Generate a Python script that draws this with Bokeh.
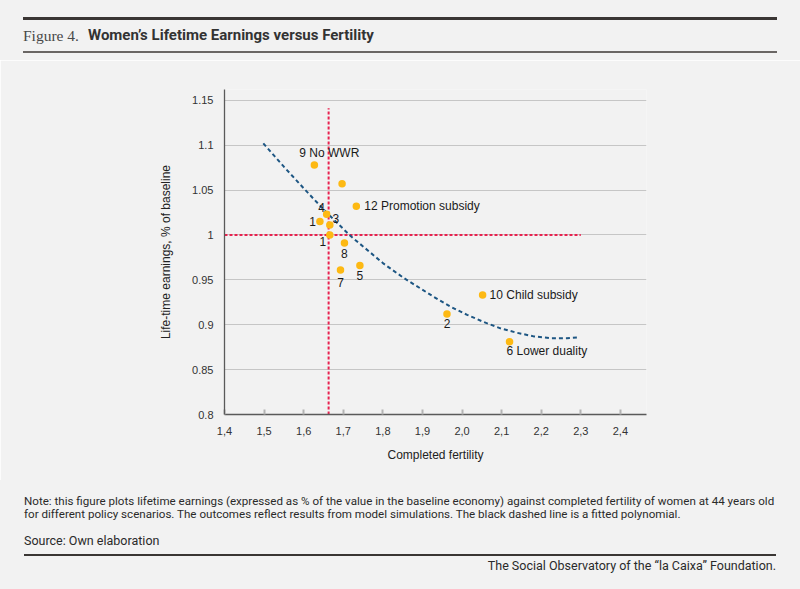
from bokeh.plotting import figure
from bokeh.models import Range1d, FixedTicker, ColumnDataSource, Div
from bokeh.layouts import column
from bokeh.core.properties import value
from bokeh.embed import file_html
from bokeh.resources import INLINE

# ---------------- data ----------------
fertility = [1.627, 1.697, 1.733, 1.658, 1.641, 1.666, 1.666, 1.703, 1.693, 1.742, 2.052, 1.962, 2.120]
earnings = [1.078, 1.057, 1.032, 1.023, 1.015, 1.011, 1.000, 0.991, 0.961, 0.966, 0.933, 0.912, 0.881]
point_labels = ["9 No WWR", "", "12 Promotion subsidy", "4", "1", "3", "1", "8", "7", "5",
                "10 Child subsidy", "2", "6 Lower duality"]

fit_fertility = [1.498, 1.550, 1.600, 1.651, 1.718, 1.802, 1.853, 1.929, 1.971, 2.013,
                 2.055, 2.097, 2.139, 2.181, 2.223, 2.265, 2.295]
fit_earnings = [1.102, 1.076, 1.052, 1.028, 0.999, 0.968, 0.952, 0.931, 0.920, 0.911,
                0.903, 0.896, 0.891, 0.887, 0.885, 0.885, 0.886]

baseline_fertility = 1.663
baseline_earnings = 1.0
vline_earnings = [0.8, 1.141]
hline_fertility = [1.4, 2.3]

x_ticks = [1.4, 1.5, 1.6, 1.7, 1.8, 1.9, 2.0, 2.1, 2.2, 2.3, 2.4]
x_tick_labels = ["1,4", "1,5", "1,6", "1,7", "1,8", "1,9", "2,0", "2,1", "2,2", "2,3", "2,4"]
y_ticks = [0.8, 0.85, 0.9, 0.95, 1.0, 1.05, 1.1, 1.15]
y_tick_labels = ["0.8", "0.85", "0.9", "0.95", "1", "1.05", "1.1", "1.15"]

title_prefix = "Figure 4."
title_text = "Women\u2019s Lifetime Earnings versus Fertility"
x_title = "Completed fertility"
y_title = "Life-time earnings, % of baseline"
note_lines = ["Note: this figure plots lifetime earnings (expressed as % of the value in the baseline economy) against completed fertility of women at 44 years old",
              "for different policy scenarios.  The outcomes reflect results from model simulations. The black dashed line is a fitted polynomial."]
source_text = "Source: Own elaboration"
credit_text = "The Social Observatory of the \u201cla Caixa\u201d Foundation."

# ---------------- styling / layout ----------------
BG = "#f2f2f2"
W = 800
label_dx = [-15, 0, 8, -5, -4, 6, -7, 0, 0, 0, 7, 0, -3]
label_dy = [-12, 0, 0, -7, 0, -7, 7, 10, 13, 10, 0, 10, 9]
label_align = ["left", "center", "left", "center", "right", "center", "center", "center",
               "center", "center", "left", "center", "left"]

# main chart occupies picture rows 60..480; frame: left 224, right 646, top 89, bottom 414
p = figure(width=W, height=420, x_range=Range1d(1.4, 2.466), y_range=Range1d(0.8, 1.162),
           output_backend="svg", toolbar_location=None,
           min_border_left=224, min_border_right=W - 646, min_border_top=29,
           min_border_bottom=66)

p.background_fill_color = BG
p.border_fill_color = BG
p.outline_line_color = None
p.xgrid.visible = False
p.ygrid.grid_line_color = "#c6c6c6"
p.ygrid.grid_line_width = 1

p.xaxis.ticker = FixedTicker(ticks=x_ticks)
p.xaxis.major_label_overrides = dict(zip(x_ticks, x_tick_labels))
p.yaxis.ticker = FixedTicker(ticks=y_ticks)
p.yaxis.major_label_overrides = dict(zip(y_ticks, y_tick_labels))
p.ygrid.ticker = FixedTicker(ticks=y_ticks)

for ax in (p.xaxis, p.yaxis):
    ax.axis_line_color = "#5a5a5a"
    ax.axis_line_width = 1.3
    ax.minor_tick_line_color = None
    ax.major_label_text_font = "Liberation Sans"
    ax.major_label_text_font_size = "11px"
    ax.major_label_text_color = "#333333"
    ax.axis_label_text_font = "Liberation Sans"
    ax.axis_label_text_font_size = "12px"
    ax.axis_label_text_font_style = "normal"
    ax.axis_label_text_color = "#222222"

p.xaxis.axis_label = x_title
p.yaxis.axis_label = y_title
p.xaxis.major_tick_in = 5
p.xaxis.major_tick_out = 0
p.xaxis.major_tick_line_color = "#b4b4b4"
p.xaxis.major_tick_line_width = 2
p.xaxis.major_label_standoff = 12
p.xaxis.axis_label_standoff = 10
p.yaxis.major_tick_in = 0
p.yaxis.major_tick_out = 0
p.yaxis.major_tick_line_color = None
p.yaxis.major_label_standoff = 11
p.yaxis.axis_label_standoff = 16

red = "#e8214f"
p.line(x=[baseline_fertility, baseline_fertility], y=vline_earnings, line_color=red,
       line_width=2, line_dash="3 2")
p.line(x=hline_fertility, y=[baseline_earnings, baseline_earnings], line_color=red,
       line_width=2, line_dash="3 2")

p.line(x=fit_fertility, y=fit_earnings, line_color="#1d5683", line_width=2, line_dash="4 3")

src = ColumnDataSource(dict(x=fertility, y=earnings, t=point_labels,
                            dx=label_dx, dy=label_dy, al=label_align))
p.scatter(x="x", y="y", source=src, size=7.5, fill_color="#fdb913", line_color=None)
p.text(x="x", y="y", text="t", source=src, x_offset="dx", y_offset="dy", text_align="al",
       text_baseline="middle", text_font=value("Liberation Sans"), text_font_size="12px",
       text_color="#1a1a1a")


# ---- title strip (rows 0..60) and footer strip (rows 480..589) ----
def rule_html(x0, x1, top, h, color):
    return (f'<div style="position:absolute;left:{x0}px;top:{top}px;width:{x1 - x0}px;'
            f'height:{h}px;background:{color};"></div>')


def text_html(x, cy, s, font, size, color, weight="normal", align="left", lh=16):
    if align == "right":
        pos = f"right:{W - x}px;text-align:right;"
    else:
        pos = f"left:{x}px;"
    return (f'<div style="position:absolute;{pos}top:{cy - lh / 2}px;line-height:{lh}px;'
            f'font-family:\'{font}\';font-size:{size};color:{color};font-weight:{weight};'
            f'white-space:nowrap;">{s}</div>')


def strip(h, parts):
    inner = "".join(parts)
    return Div(text=f'<div style="position:relative;width:{W}px;height:{h}px;'
                    f'background:{BG};overflow:hidden;">{inner}</div>',
               width=W, height=h, margin=0, styles={"background-color": BG})


top = strip(60, [
    rule_html(23, 777, 17.4, 2.2, "#3a3634"),
    text_html(23, 35.5, title_prefix, "Liberation Serif", "15.5px", "#484848"),
    text_html(88, 35, title_text, "Roboto", "15px", "#333333", weight="bold"),
    rule_html(23, 777, 51.3, 1.4, "#6a6664"),
])

foot = strip(109, [
    text_html(24, 20.7, note_lines[0], "Roboto", "11.6px", "#2a2a2a"),
    text_html(24, 34, note_lines[1], "Roboto", "11.6px", "#2a2a2a"),
    text_html(24, 61, source_text, "Roboto", "12.5px", "#2a2a2a"),
    rule_html(24, 776, 74, 2, "#3a3634"),
    text_html(776, 86, credit_text, "Roboto", "12.5px", "#2a2a2a", align="right"),
])

layout = column(top, p, foot, spacing=0)
open("out.html", "w").write(file_html(layout, INLINE))
